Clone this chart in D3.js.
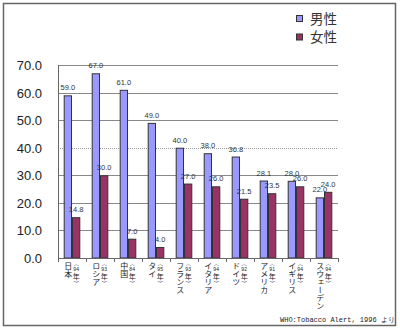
<!DOCTYPE html>
<html><head><meta charset="utf-8">
<script src="https://cdn.jsdelivr.net/npm/d3@7"></script>
<style>body{margin:0;background:#fff}svg{display:block}</style>
</head><body>
<script>
const countries = ["日本","ロシア","中国","タイ","フランス","イタリア","ドイツ","アメリカ","イギリス","スウェーデン"];
const years = ["94","93","84","95","93","94","92","91","94","94"];
const male = [59.0,67.0,61.0,49.0,40.0,38.0,36.8,28.1,28.0,22.0];
const female = [14.8,30.0,7.0,4.0,27.0,26.0,21.5,23.5,26.0,24.0];
const seriesNames = ["男性","女性"];
const colors = ["#9999ff","#993366"];
const yTicks = [0,10,20,30,40,50,60,70];
const source = "WHO:Tobacco Alert, 1996 より";

const W=400,H=331;
const svg=d3.select("body").append("svg").attr("width",W).attr("height",H);
svg.append("rect").attr("width",W).attr("height",H).attr("fill","#fff");
svg.append("rect").attr("x",3.5).attr("y",3.5).attr("width",392).attr("height",322)
  .attr("fill","none").attr("stroke","#666").attr("stroke-width",1.5);

const L=58,R=338,T=65,B=258;
const y=d3.scaleLinear().domain([0,70]).range([B,T]);
const x=d3.scaleBand().domain(countries).range([L,R]).paddingInner(0.407).paddingOuter(0.2035);
const bw=x.bandwidth()/2;

// grid
svg.append("g").selectAll("line").data(yTicks.filter(d=>d>0)).join("line")
  .attr("x1",L).attr("x2",R).attr("y1",d=>Math.round(y(d))+0.5).attr("y2",d=>Math.round(y(d))+0.5)
  .attr("stroke",d=>d===40?"#999":"#888").attr("stroke-width",1)
  .attr("stroke-dasharray",d=>d===40?"1,1":null);

// y labels
svg.append("g").selectAll("text").data(yTicks).join("text")
  .attr("x",42).attr("y",d=>y(d)+5).attr("text-anchor","end")
  .attr("font-family","Liberation Sans, Arial").attr("font-size",13).attr("fill","#222")
  .text(d=>d.toFixed(1));

// bars
const g=svg.append("g");
[male,female].forEach((vals,si)=>{
  g.append("g").selectAll("rect").data(vals).join("rect")
    .attr("x",(d,i)=>x(countries[i])+si*bw+0.5).attr("y",d=>y(d)+0.5)
    .attr("width",bw-1).attr("height",d=>B-y(d)-0.5)
    .attr("fill",colors[si]).attr("stroke","#333").attr("stroke-width",1);
  g.append("g").selectAll("text").data(vals).join("text")
    .attr("x",(d,i)=>x(countries[i])+si*bw+bw/2).attr("y",d=>y(d)-5)
    .attr("text-anchor","middle").attr("font-family","Liberation Sans, Arial").attr("font-size",7.5)
    .attr("fill","#333").text(d=>d.toFixed(1));
});

// axes lines
svg.append("line").attr("x1",L+0.5).attr("x2",L+0.5).attr("y1",T).attr("y2",B+4).attr("stroke","#666");
svg.append("line").attr("x1",L).attr("x2",R).attr("y1",B+0.5).attr("y2",B+0.5).attr("stroke","#666");
svg.append("g").selectAll("line").data(d3.range(countries.length+1)).join("line")
  .attr("x1",i=>L+i*x.step()+0.5).attr("x2",i=>L+i*x.step()+0.5).attr("y1",B).attr("y2",B+4).attr("stroke","#666");

// x labels
const xl=svg.append("g").attr("font-family","Noto Sans CJK JP").attr("fill","#222");
countries.forEach((c,i)=>{
  const cx=x(c)+bw/2+0.5;
  xl.append("text").attr("x",cx).attr("y",262).attr("font-size",8)
    .style("writing-mode","vertical-rl").text(c);
  const fx=x(c)+bw*1.5;
  xl.append("text").attr("x",fx).attr("y",264.5).attr("font-size",5).attr("text-anchor","middle").text("︵");
  xl.append("text").attr("x",fx).attr("y",270.5).attr("font-size",5).attr("text-anchor","middle")
    .attr("font-family","Liberation Sans, Arial").text(years[i]);
  xl.append("text").attr("x",fx).attr("y",278.5).attr("font-size",7).attr("text-anchor","middle").text("年");
  xl.append("text").attr("x",fx).attr("y",285).attr("font-size",5).attr("text-anchor","middle").text("︶");
});

// legend
const lg=svg.append("g");
seriesNames.forEach((s,i)=>{
  lg.append("rect").attr("x",296.5).attr("y",15.5+i*18.5).attr("width",6).attr("height",6)
    .attr("fill",colors[i]).attr("stroke","#333");
  lg.append("text").attr("x",310).attr("y",23.5+i*18.5).attr("font-family","Noto Sans CJK JP")
    .attr("font-size",13.5).attr("fill","#333").text(s);
});

// source
svg.append("text").attr("x",280).attr("y",322).attr("font-family","Liberation Mono, DejaVu Sans Mono")
  .attr("font-size",7).attr("fill","#222").text(source);
</script>
</body></html>
